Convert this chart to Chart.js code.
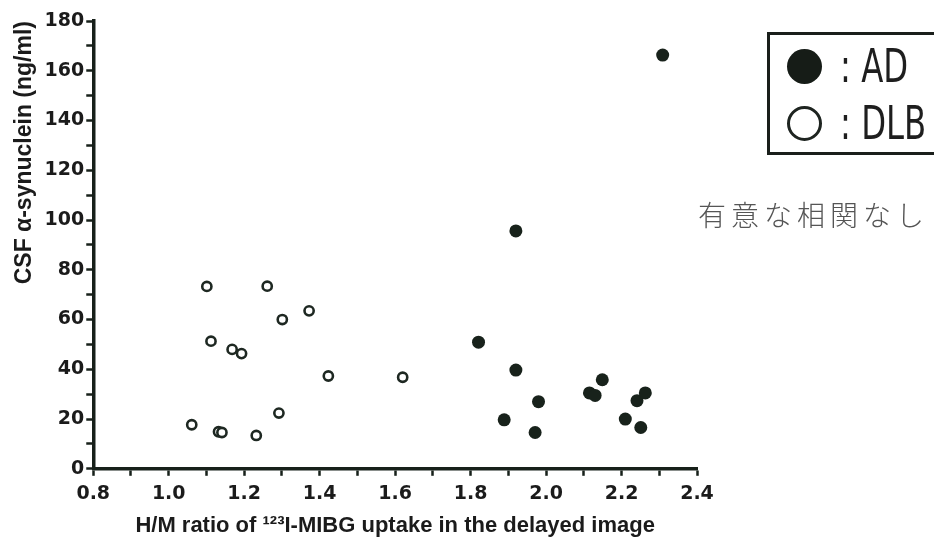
<!DOCTYPE html>
<html>
<head>
<meta charset="utf-8">
<script src="https://cdn.jsdelivr.net/npm/chart.js@4/dist/chart.umd.min.js"></script>
<style>
  html, body { margin: 0; padding: 0; background: #fff; }
  #wrap { position: relative; width: 934px; height: 539px; overflow: hidden; background: #fff; }
  #c { position: absolute; left: 0; top: 0; }
  #legend { position: absolute; left: 767px; top: 32px; width: 200px; height: 123px;
            border: 3px solid #1a1f1b; box-sizing: border-box; }
  .row { position: absolute; left: 0; height: 50px; width: 200px; }
  .mk { position: absolute; left: 17px; width: 35px; height: 35px; border-radius: 50%; box-sizing: border-box; }
  .txt { position: absolute; left: 70px; font-family: "Liberation Sans Narrow", "DejaVu Sans Condensed", sans-serif;
         font-size: 46px; line-height: 50px; color: #1e1e1e; transform: scaleX(0.78); transform-origin: left center; white-space: pre; }
  #note { position: absolute; left: 698px; top: 194px; font-family: "Noto Sans CJK JP", sans-serif; font-size: 28px;
          letter-spacing: 5px; color: #555; white-space: nowrap; font-weight: 300; }
</style>
</head>
<body>
<div id="wrap">
  <canvas id="c" width="934" height="539"></canvas>
  <div id="legend">
    <div class="row" style="top:6px"><div class="mk" style="top:8px;background:#161c17"></div><div class="txt">: AD</div></div>
    <div class="row" style="top:63px"><div class="mk" style="top:8px;border:3px solid #1e2420;background:#fff"></div><div class="txt">: DLB</div></div>
  </div>
  <div id="note">有意な相関なし</div>
</div>
<script>
// ---- Data ----
const seriesNames = ["AD", "DLB"];

const adRatio = [1.821, 1.889, 1.920, 1.920, 1.971, 1.980, 2.115, 2.130, 2.149, 2.210, 2.241, 2.251, 2.263, 2.309];
const adSyn   = [50.9, 19.7, 95.6, 39.7, 14.6, 27.0, 30.5, 29.5, 35.8, 20.0, 27.4, 16.6, 30.5, 166.3];

const dlbRatio = [1.061, 1.101, 1.112, 1.132, 1.141, 1.168, 1.193, 1.232, 1.261, 1.292, 1.301, 1.372, 1.423, 1.620];
const dlbSyn   = [17.7, 73.3, 51.3, 14.9, 14.6, 48.0, 46.3, 13.4, 73.4, 22.4, 60.0, 63.5, 37.3, 36.8];

const xTickLabels = ["0.8", "1.0", "1.2", "1.4", "1.6", "1.8", "2.0", "2.2", "2.4"];
const yTickLabels = ["0", "20", "40", "60", "80", "100", "120", "140", "160", "180"];

const xTitle = "H/M ratio of \u00B9\u00B2\u00B3I-MIBG uptake in the delayed image";
const yTitle = "CSF \u03B1-synuclein (ng/ml)";

// ---- Build ----
const toPts = (xs, ys) => xs.map((x, i) => ({ x: x, y: ys[i] }));
const ink = "#17201a";

const tickFont = { family: "DejaVu Sans", weight: "bold", size: 19 };

new Chart(document.getElementById("c"), {
  type: "scatter",
  data: {
    datasets: [
      { label: seriesNames[0], data: toPts(adRatio, adSyn), pointRadius: 6.5, pointBackgroundColor: "#18221b",
        pointBorderColor: "#18221b", pointBorderWidth: 0 },
      { label: seriesNames[1], data: toPts(dlbRatio, dlbSyn), pointRadius: 4.6, pointBackgroundColor: "#ffffff",
        pointBorderColor: "#1e2822", pointBorderWidth: 2.6 }
    ]
  },
  options: {
    responsive: false,
    animation: false,
    layout: { padding: { left: 11, right: 237, top: 21, bottom: 0 } },
    plugins: { legend: { display: false }, tooltip: { enabled: false } },
    scales: {
      x: {
        type: "linear", min: 0.8, max: 2.4,
        ticks: {
          stepSize: 0.1, autoSkip: false, color: "#1b1b1b", font: tickFont, padding: 7, maxRotation: 0,
          callback: function (v) {
            const idx = Math.round((v - 0.8) / 0.1);
            return idx % 2 === 0 ? xTickLabels[idx / 2] : "";
          }
        },
        grid: { drawOnChartArea: false, drawTicks: true, tickLength: 7, tickColor: ink, tickWidth: 2.5 },
        border: { color: ink, width: 3.5 },
        title: { display: true, text: xTitle, color: "#1b1b1b", padding: { top: 0, bottom: 0 },
                 font: { family: "Liberation Sans", weight: "bold", size: 22 } }
      },
      y: {
        type: "linear", min: 0, max: 180,
        ticks: {
          stepSize: 10, autoSkip: false, color: "#1b1b1b", font: tickFont, padding: 2,
          callback: function (v) {
            const idx = Math.round(v / 10);
            return idx % 2 === 0 ? yTickLabels[idx / 2] : "";
          }
        },
        grid: { drawOnChartArea: false, drawTicks: true, tickLength: 7, tickColor: ink, tickWidth: 2.5 },
        border: { color: ink, width: 3.5 },
        title: { display: true, text: yTitle, align: "end", color: "#1b1b1b", padding: { top: 0, bottom: 4 },
                 font: { family: "Liberation Sans", weight: "bold", size: 23 } }
      }
    }
  }
});
</script>
</body>
</html>
